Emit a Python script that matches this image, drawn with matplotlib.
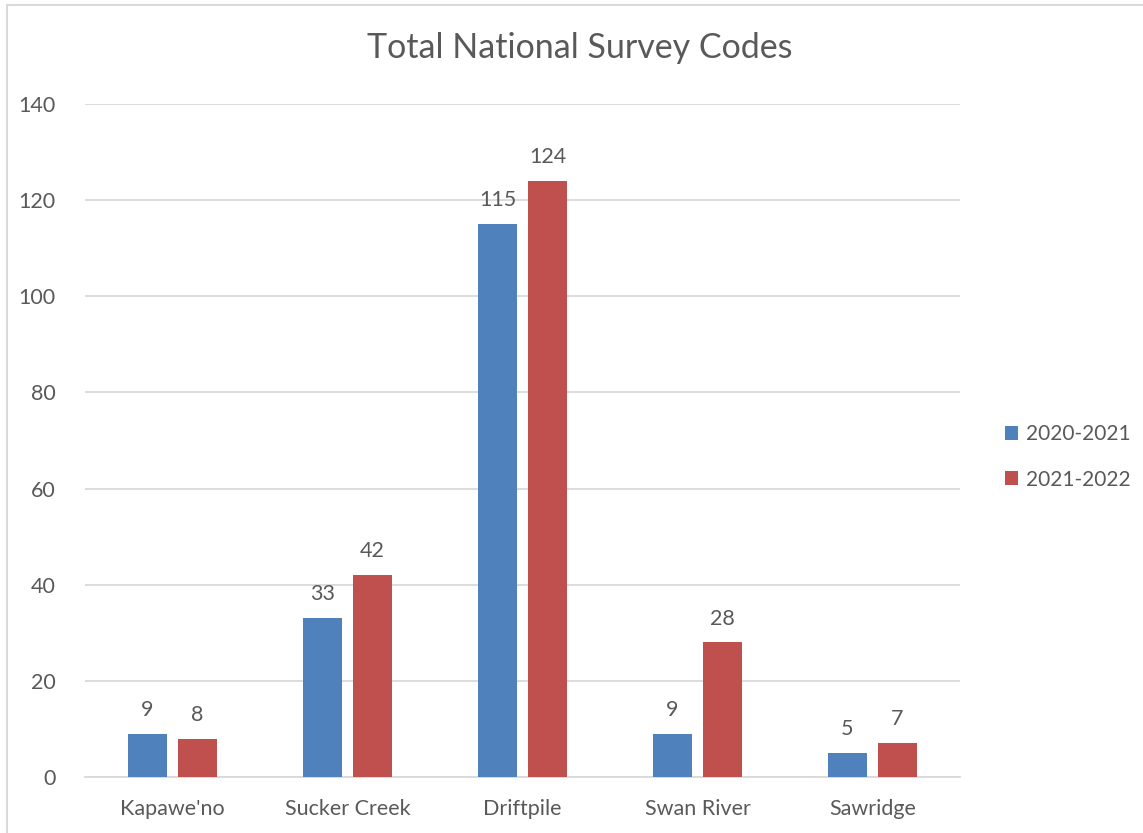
import matplotlib
matplotlib.use("Agg")
import matplotlib.pyplot as plt
from matplotlib.patches import Rectangle
import numpy as np

categories = ["Kapawe'no", "Sucker Creek", "Driftpile", "Swan River", "Sawridge"]
series_names = ["2020-2021", "2021-2022"]
values_2020 = [9, 33, 115, 9, 5]
values_2021 = [8, 42, 124, 28, 7]
yticks = [0, 20, 40, 60, 80, 100, 120, 140]

colors = ["#4F81BD", "#C0504D"]
text_color = "#595959"
grid_color = "#D9D9D9"

plt.rcParams['font.family'] = ['Lato', 'DejaVu Sans']
fs = 15.5

fig = plt.figure(figsize=(11.43, 8.33), dpi=100)
ax = fig.add_axes([85/1143, 1-777/833, (960-85)/1143, (777-104)/833])

x = np.arange(len(categories))
w = 0.225
off = 0.143
b1 = ax.bar(x - off, values_2020, w, color=colors[0], label=series_names[0], zorder=3)
b2 = ax.bar(x + off, values_2021, w, color=colors[1], label=series_names[1], zorder=3)

for bars, vals in ((b1, values_2020), (b2, values_2021)):
    for rect, v in zip(bars, vals):
        ax.annotate(str(v), (rect.get_x() + rect.get_width()/2, v),
                    xytext=(0, 10), textcoords="offset points",
                    ha="center", va="bottom", fontsize=fs, color=text_color)

ax.set_xlim(-0.5, len(categories) - 0.5)
ax.set_ylim(0, 140)
ax.set_yticks(yticks)
ax.set_xticks(x)
ax.set_xticklabels(categories)
ax.tick_params(axis="both", length=0, labelsize=fs, colors=text_color)
ax.tick_params(axis="y", pad=21)
ax.tick_params(axis="x", pad=16)
ax.grid(axis="y", color=grid_color, linewidth=1.3, zorder=0)
for s in ["top", "right", "left"]:
    ax.spines[s].set_visible(False)
ax.spines["bottom"].set_color(grid_color)
ax.spines["bottom"].set_linewidth(1.3)

fig.text(580/1143, 1-48/833, "Total National Survey Codes", ha="center", va="center",
         fontsize=24.5, color=text_color)

fig.legend(handles=[b1, b2], labels=series_names, loc="center left",
           bbox_to_anchor=(986/1143, 1-457/833), frameon=False, fontsize=15,
           labelcolor=text_color, handlelength=0.65, handleheight=0.65,
           handletextpad=0.35, labelspacing=1.2)

fig.patches.append(Rectangle((7/1143, -0.1), 1.2, 1 - 5/833 + 0.1, transform=fig.transFigure,
                             fill=False, edgecolor=grid_color, linewidth=1.5))

fig.savefig("out.png", dpi=100)
